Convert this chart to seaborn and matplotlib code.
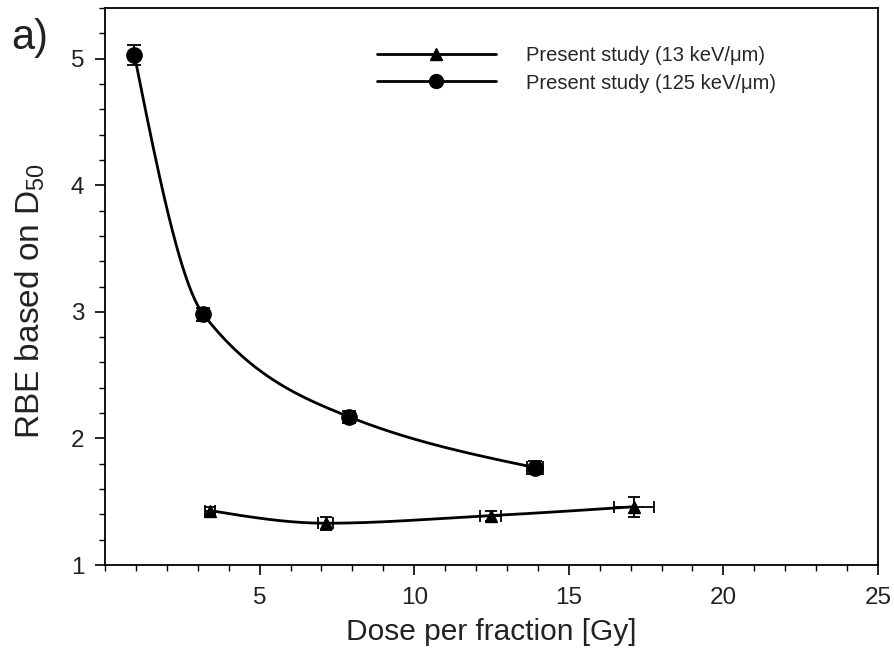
import numpy as np
import pandas as pd
import matplotlib
matplotlib.use("Agg")
import matplotlib.pyplot as plt
from matplotlib.ticker import MultipleLocator
import seaborn as sns

# RBE (D50) versus dose per fraction
dose_125 = [0.95, 3.18, 7.90, 13.90]
rbe_125 = [5.03, 2.98, 2.17, 1.77]
rbe_125_err = [0.08, 0.05, 0.05, 0.05]
dose_125_err = [0.0, 0.0, 0.0, 0.25]

dose_13 = [3.40, 7.14, 12.47, 17.10]
rbe_13 = [1.43, 1.33, 1.39, 1.46]
rbe_13_err = [0.03, 0.05, 0.04, 0.08]
dose_13_err = [0.15, 0.25, 0.35, 0.65]

label_13 = "Present study (13 keV/\u03bcm)"
label_125 = "Present study (125 keV/\u03bcm)"


def smooth_curve(x, y, n=400):
    """Shape-preserving cubic Hermite curve through the points
    (harmonic-mean interior slopes, quadratic end conditions)."""
    x = np.asarray(x, float)
    y = np.asarray(y, float)
    h = np.diff(x)
    d = np.diff(y) / h
    m = np.zeros_like(y)
    for i in range(1, len(x) - 1):
        if d[i - 1] * d[i] > 0:
            w1 = 2 * h[i] + h[i - 1]
            w2 = h[i] + 2 * h[i - 1]
            m[i] = (w1 + w2) / (w1 / d[i - 1] + w2 / d[i])
    m[0] = 1.5 * d[0] - 0.5 * m[1]
    m[-1] = 1.5 * d[-1] - 0.5 * m[-2]
    xs = np.linspace(x[0], x[-1], n)
    idx = np.clip(np.searchsorted(x, xs, side="right") - 1, 0, len(x) - 2)
    hi = h[idx]
    t = (xs - x[idx]) / hi
    h00 = 2 * t ** 3 - 3 * t ** 2 + 1
    h10 = t ** 3 - 2 * t ** 2 + t
    h01 = -2 * t ** 3 + 3 * t ** 2
    h11 = t ** 3 - t ** 2
    ys = h00 * y[idx] + h10 * hi * m[idx] + h01 * y[idx + 1] + h11 * hi * m[idx + 1]
    return xs, ys


sns.set_theme(style="ticks")
plt.rcParams["font.family"] = ["Liberation Sans", "DejaVu Sans"]
plt.rcParams["mathtext.fontset"] = "custom"
plt.rcParams["mathtext.rm"] = "Liberation Sans"
plt.rcParams["mathtext.it"] = "Liberation Sans"

fig = plt.figure(figsize=(8.95, 6.61), dpi=100)
ax = fig.add_axes([105 / 895, 1 - 565 / 661, (878 - 105) / 895, (565 - 8) / 661])

xs13, ys13 = smooth_curve(dose_13, rbe_13)
xs125, ys125 = smooth_curve(dose_125, rbe_125)
curves = pd.concat([
    pd.DataFrame({"dose": xs13, "rbe": ys13, "series": label_13}),
    pd.DataFrame({"dose": xs125, "rbe": ys125, "series": label_125}),
])
sns.lineplot(data=curves, x="dose", y="rbe", hue="series", units="series",
             palette=["black", "black"], linewidth=2.0, legend=False,
             ax=ax, sort=False, estimator=None)

ax.errorbar(dose_13, rbe_13, yerr=rbe_13_err, xerr=dose_13_err, fmt="^",
            color="black", ms=9, capsize=4, elinewidth=1.3, capthick=1.3,
            zorder=4)
ax.errorbar(dose_125, rbe_125, yerr=rbe_125_err, xerr=dose_125_err, fmt="o",
            color="black", ms=11, capsize=5, elinewidth=1.3, capthick=1.3,
            zorder=4)

# legend handles: line with marker in the middle
h13, = ax.plot([], [], color="black", lw=2.0, marker="^", ms=9)
h125, = ax.plot([], [], color="black", lw=2.0, marker="o", ms=10)
ax.legend([h13, h125], [label_13, label_125], loc="upper left",
          bbox_to_anchor=(367 / 895, 1 - 36 / 661), bbox_transform=fig.transFigure,
          frameon=False, fontsize=14.5, handlelength=5.9, handletextpad=1.5,
          labelspacing=0.42, borderpad=0, numpoints=1)

ax.set_xlim(0, 25)
ax.set_ylim(1, 5.4)
ax.xaxis.set_major_locator(MultipleLocator(5))
ax.xaxis.set_minor_locator(MultipleLocator(1))
ax.yaxis.set_major_locator(MultipleLocator(1))
ax.yaxis.set_minor_locator(MultipleLocator(0.2))
ax.set_xticks([5, 10, 15, 20, 25])
ax.tick_params(which="major", direction="out", length=7, width=1.2,
               labelsize=17.5, color="black", labelcolor="#222222")
ax.tick_params(which="minor", direction="out", length=4, width=1.0,
               color="black")
ax.tick_params(axis="x", which="major", pad=9)
ax.tick_params(axis="y", which="major", pad=8)
for s in ax.spines.values():
    s.set_visible(True)
    s.set_linewidth(1.3)
    s.set_color("black")

ax.set_xlabel("Dose per fraction [Gy]", fontsize=21.5, color="#222222", labelpad=6)
ax.set_ylabel("RBE based on D$_{50}$", fontsize=24, color="#222222")
ax.yaxis.set_label_coords(-0.075, 0.474)

fig.text(11 / 895, 1 - 49 / 661, "a)", fontsize=30, color="#222222",
         ha="left", va="baseline")

fig.savefig("out.png", dpi=100)
